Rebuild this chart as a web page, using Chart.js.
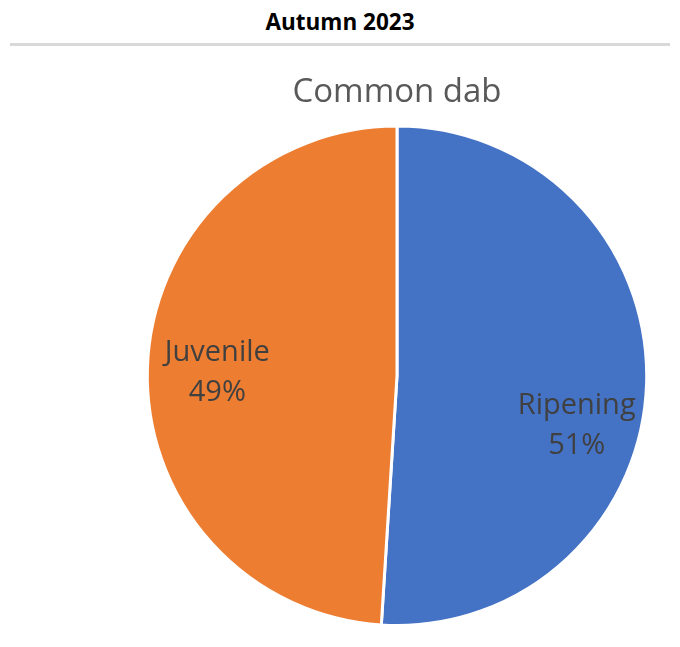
<!DOCTYPE html>
<html lang="en">
<head>
  <meta charset="UTF-8" />
  <title>Autumn 2023</title>
  <script src="https://cdn.jsdelivr.net/npm/chart.js"></script>
  <style>
    body {
      margin: 0;
      background: #fff;
      font-family: "Open Sans", sans-serif;
      width: 680px;
      height: 647px;
      position: relative;
      overflow: hidden;
    }
    #head {
      position: absolute;
      left: 0; top: 7px;
      width: 680px;
      text-align: center;
      font-weight: bold;
      font-size: 22.5px;
      line-height: 30px;
      color: #000;
    }
    #rule {
      position: absolute;
      left: 10px; top: 43px;
      width: 660px; height: 3px;
      background: #d9d9d9;
    }
    #wrap {
      position: absolute;
      left: 0; top: 50px;
      width: 680px; height: 597px;
    }
  </style>
</head>
<body>
  <div id="head">Autumn 2023</div>
  <div id="rule"></div>
  <div id="wrap"><canvas id="pie"></canvas></div>

  <script>
    const categories = ["Ripening", "Juvenile"];
    const shares = [51, 49];
    const colors = ["#4472C4", "#ED7D31"];

    // excel puts its labels by "best fit", nudge them a bit downwards
    const labelNudge = [44, 3];

    const sliceLabels = {
      id: "sliceLabels",
      afterDatasetsDraw(chart) {
        const ctx = chart.ctx;
        const meta = chart.getDatasetMeta(0);
        ctx.save();
        ctx.font = "29px 'Open Sans'";
        ctx.fillStyle = "#404040";
        ctx.textAlign = "center";
        ctx.textBaseline = "middle";
        meta.data.forEach((arc, i) => {
          const p = arc.getProps(["x", "y", "startAngle", "endAngle", "outerRadius"], true);
          const mid = (p.startAngle + p.endAngle) / 2;
          const r = p.outerRadius * 0.72;
          const x = p.x + Math.cos(mid) * r;
          const y = p.y + Math.sin(mid) * r + labelNudge[i];
          ctx.fillText(categories[i], x, y - 20);
          ctx.fillText(shares[i] + "%", x, y + 20);
        });
        ctx.restore();
      }
    };

    new Chart(document.getElementById("pie"), {
      type: "pie",
      data: {
        labels: categories,
        datasets: [{
          data: shares,
          backgroundColor: colors,
          borderColor: "#fff",
          borderWidth: 3
        }]
      },
      options: {
        responsive: true,
        maintainAspectRatio: false,
        animation: false,
        layout: { padding: { left: 114, right: 0, top: 0, bottom: 20 } },
        plugins: {
          legend: { display: false },
          tooltip: { enabled: false },
          title: {
            display: true,
            text: "Common dab",
            color: "#595959",
            font: { family: "'Open Sans'", size: 33, weight: "normal" },
            padding: { top: 23, bottom: 12 }
          }
        }
      },
      plugins: [sliceLabels]
    });
  </script>
</body>
</html>
